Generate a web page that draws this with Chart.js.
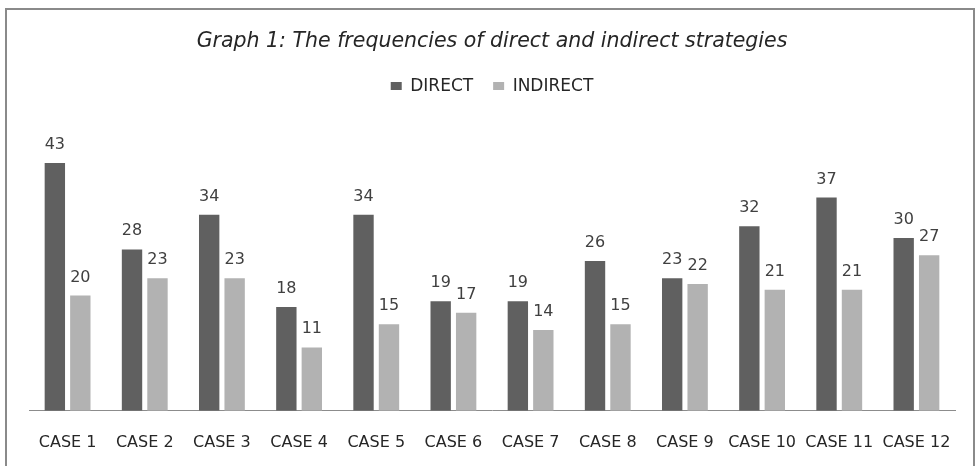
<!DOCTYPE html>
<html>
<head>
<meta charset="utf-8">
<script src="https://cdn.jsdelivr.net/npm/chart.js@4"></script>
<style>
  html, body { margin: 0; padding: 0; background: #fff; }
  #wrap { width: 979px; height: 466px; position: relative; }
</style>
</head>
<body>
<div id="wrap"><canvas id="chart" width="979" height="466"></canvas></div>
<script>
const cases = ["CASE 1", "CASE 2", "CASE 3", "CASE 4", "CASE 5", "CASE 6",
  "CASE 7", "CASE 8", "CASE 9", "CASE 10", "CASE 11", "CASE 12"];
const direct = [43, 28, 34, 18, 34, 19, 19, 26, 23, 32, 37, 30];
const indirect = [20, 23, 23, 11, 15, 17, 14, 15, 22, 21, 21, 27];

// frame round the chart, open at the bottom like the screenshot
const framePlugin = {
  id: "frame",
  beforeDraw(chart) {
    const c = chart.ctx;
    c.save();
    c.fillStyle = "#fff";
    c.fillRect(0, 0, chart.width, chart.height);
    c.strokeStyle = "#8a8a8a";
    c.lineWidth = 2;
    c.beginPath();
    c.moveTo(6, chart.height + 2);
    c.lineTo(6, 9);
    c.lineTo(974, 9);
    c.lineTo(974, chart.height + 2);
    c.stroke();
    c.restore();
  }
};

// extra room under the legend
const legendSpace = {
  id: "legendSpace",
  beforeInit(chart) {
    const fit = chart.legend.fit;
    chart.legend.fit = function () {
      fit.call(this);
      this.height += 18;
    };
  }
};

// value labels above each bar
const valueLabels = {
  id: "valueLabels",
  afterDatasetsDraw(chart) {
    const c = chart.ctx;
    c.save();
    c.font = "16px 'DejaVu Sans'";
    c.fillStyle = "#404040";
    c.textAlign = "center";
    c.textBaseline = "alphabetic";
    chart.data.datasets.forEach((ds, i) => {
      chart.getDatasetMeta(i).data.forEach((bar, j) => {
        c.fillText(ds.data[j], bar.x, bar.y - 14);
      });
    });
    c.restore();
  }
};

new Chart(document.getElementById("chart"), {
  type: "bar",
  data: {
    labels: cases,
    datasets: [
      { label: "DIRECT", data: direct, backgroundColor: "#606060" },
      { label: "INDIRECT", data: indirect, backgroundColor: "#b2b2b2" }
    ]
  },
  options: {
    responsive: false,
    animation: false,
    events: [],
    categoryPercentage: 0.66,
    barPercentage: 0.8,
    layout: { padding: { left: 29, right: 24, top: 0, bottom: 0 } },
    plugins: {
      title: {
        display: true,
        text: "Graph 1: The frequencies of direct and indirect strategies",
        color: "#262626",
        font: { family: "'DejaVu Sans'", size: 20.5, style: "italic", weight: "normal" },
        padding: { top: 29.5, bottom: 3.5 }
      },
      legend: {
        display: true,
        labels: {
          color: "#262626",
          font: { family: "'DejaVu Sans'", size: 17 },
          boxWidth: 11,
          boxHeight: 8,
          padding: 20
        }
      },
      tooltip: { enabled: false }
    },
    scales: {
      x: {
        grid: { display: false },
        border: { display: true, color: "#8c8c8c", width: 1 },
        ticks: {
          color: "#262626",
          font: { family: "'DejaVu Sans'", size: 16 },
          padding: 14,
          maxRotation: 0,
          autoSkip: false
        }
      },
      y: {
        display: false,
        min: 0,
        max: 50
      }
    }
  },
  plugins: [framePlugin, legendSpace, valueLabels]
});
</script>
</body>
</html>
